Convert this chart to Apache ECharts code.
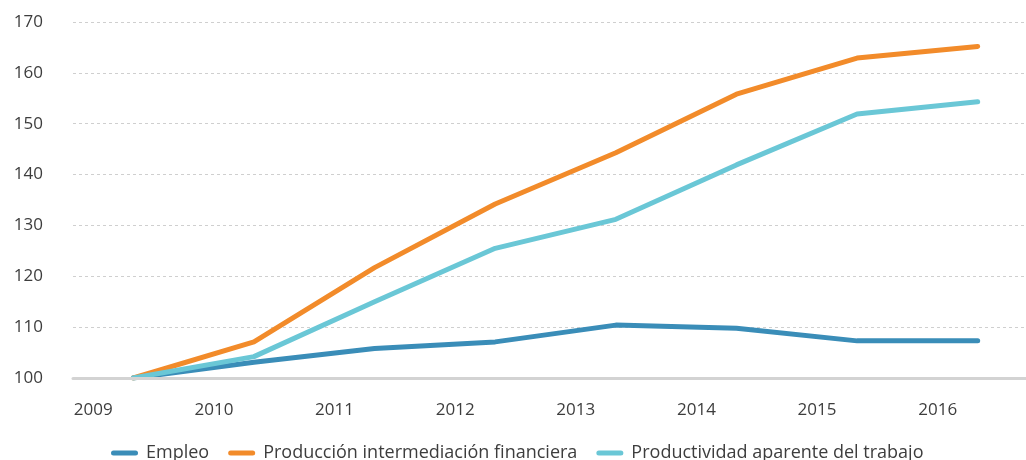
<!DOCTYPE html>
<html>
<head>
<meta charset="utf-8">
<script src="https://cdn.jsdelivr.net/npm/echarts@6/dist/echarts.min.js"></script>
<style>
html,body{margin:0;padding:0;background:#fff;}
#chart{width:1026px;height:460px;}
</style>
</head>
<body>
<div id="chart"></div>
<script>
var years = ['2009','2010','2011','2012','2013','2014','2015','2016'];
var empleo = [100, 103.1, 105.8, 107.1, 110.4, 109.8, 107.3, 107.3];
var produccion = [100, 107.1, 121.7, 134.2, 144.3, 155.8, 162.9, 165.2];
var productividad = [100, 104.2, 115.0, 125.5, 131.2, 141.9, 151.9, 154.3];
var names = ['Empleo', 'Producción intermediación financiera', 'Productividad aparente del trabajo'];
var colors = ['#3a8db8', '#f28b2a', '#6ac7d6'];

var FONT = '"Open Sans", sans-serif';
var TXT = '#3d3d3d';
var chart = echarts.init(document.getElementById('chart'), null, {renderer: 'canvas'});
function mk(name, data, color) {
  return {
    name: name, type: 'line', data: data, showSymbol: false, symbol: 'none',
    lineStyle: {color: color, width: 5, cap: 'round', join: 'round'},
    itemStyle: {color: color}
  };
}
var pill = 'path://M2.5,0 L24.5,0 A2.5,2.5 0 0 1 24.5,5 L2.5,5 A2.5,2.5 0 0 1 2.5,0 Z';
chart.setOption({
  animation: false,
  color: colors,
  grid: {left: 73, width: 965, top: 22, bottom: 82, containLabel: false, outerBoundsMode: 'none'},
  legend: {
    left: 111, top: 444, padding: 0, itemWidth: 27, itemHeight: 5, itemGap: 19,
    icon: pill,
    data: names,
    textStyle: {fontFamily: FONT, fontSize: 18, color: TXT, padding: [0, 0, 0, 3]}
  },
  xAxis: {
    type: 'category', data: years, boundaryGap: true,
    axisLine: {show: true, lineStyle: {color: '#d3d3d3', width: 3}},
    axisTick: {show: false},
    axisLabel: {fontFamily: FONT, fontSize: 17, color: TXT, margin: 24, padding: [0, 80, 0, 0]},
    splitLine: {show: false},
    z: 5
  },
  yAxis: {
    type: 'value', min: 100, max: 170, interval: 10,
    axisLine: {show: false}, axisTick: {show: false},
    axisLabel: {fontFamily: FONT, fontSize: 17, color: TXT, margin: 30},
    splitLine: {show: true, lineStyle: {color: '#cfcfcf', width: 1, type: [3, 3]}}
  },
  series: [
    mk(names[0], empleo, colors[0]),
    mk(names[1], produccion, colors[1]),
    mk(names[2], productividad, colors[2])
  ]
});
</script>
</body>
</html>
